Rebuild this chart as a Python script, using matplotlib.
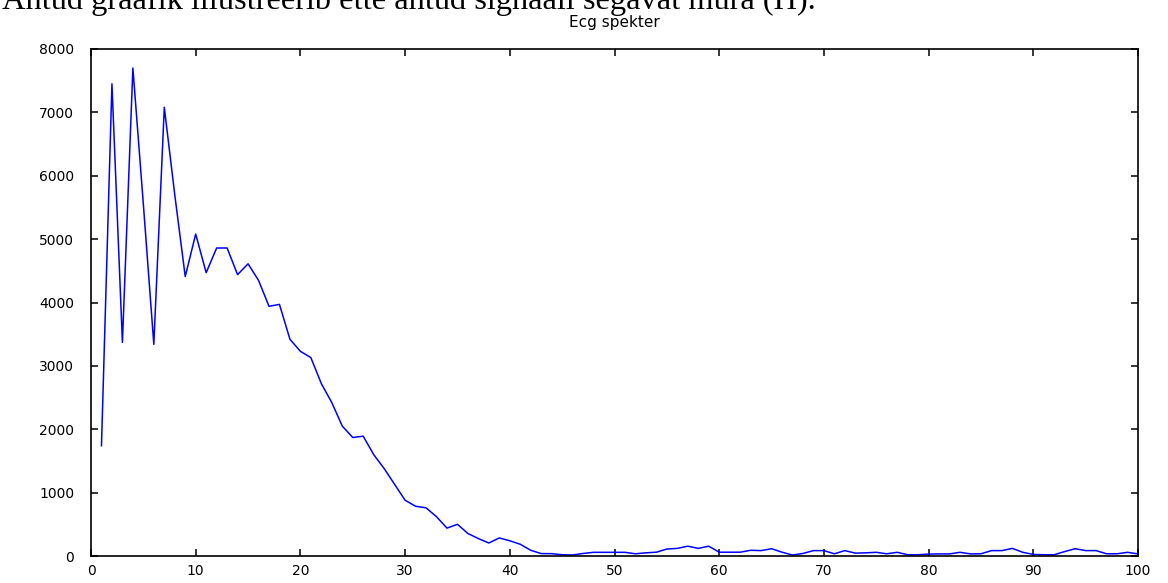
import numpy as np
import matplotlib
matplotlib.use('Agg')
import matplotlib.pyplot as plt

# spectrum bins (Hz) and magnitudes
freq = np.arange(1, 101)
magnitude = [
    1740, 7450, 3370, 7700, 5550, 3340, 7080, 5700, 4410, 5080,
    4470, 4860, 4860, 4440, 4610, 4350, 3940, 3970, 3420, 3230,
    3130, 2720, 2420, 2050, 1870, 1890, 1600, 1380, 1130, 880,
    785, 760, 620, 440, 500, 355, 275, 205, 285, 240,
    185, 90, 38, 37, 20, 16, 40, 58, 58, 58,
    58, 35, 50, 60, 110, 120, 155, 120, 155, 60,
    60, 60, 90, 85, 115, 60, 15, 40, 85, 85,
    35, 85, 45, 50, 58, 35, 58, 20, 20, 30,
    33, 33, 58, 33, 35, 85, 85, 120, 58, 25,
    20, 20, 70, 115, 85, 85, 35, 35, 58, 33,
]

xticks = list(range(0, 101, 10))
yticks = list(range(0, 8001, 1000))

title = 'Ecg spekter'
caption = 'Antud graafik illustreerib ette antud signaali segavat müra (H).'

fig = plt.figure(figsize=(11.68, 5.83), dpi=100)
ax = fig.add_axes([91 / 1168, 27 / 583, (1138 - 91) / 1168, (556 - 49) / 583])

# Draw the spectrum
ax.plot(freq, magnitude, color=(0.0, 0.0, 1.0), linewidth=1.1)

ax.set_xlim(0, 100)
ax.set_ylim(0, 8000)
ax.set_xticks(xticks)
ax.set_yticks(yticks)

ax.tick_params(direction='in', top=True, right=True, length=5, width=1.1,
               labelsize=10, colors='black')
ax.tick_params(axis='x', pad=6)
ax.tick_params(axis='y', pad=12)
for spine in ax.spines.values():
    spine.set_linewidth(1.2)
    spine.set_color('black')

ax.set_title(title, fontsize=11, pad=16)

# text of the surrounding document, cut at the top edge
fig.text(0.002, 1 - 8.5 / 583, caption, family='Liberation Serif',
         fontsize=23.3, va='baseline', ha='left')

fig.savefig('out.png', dpi=100)
